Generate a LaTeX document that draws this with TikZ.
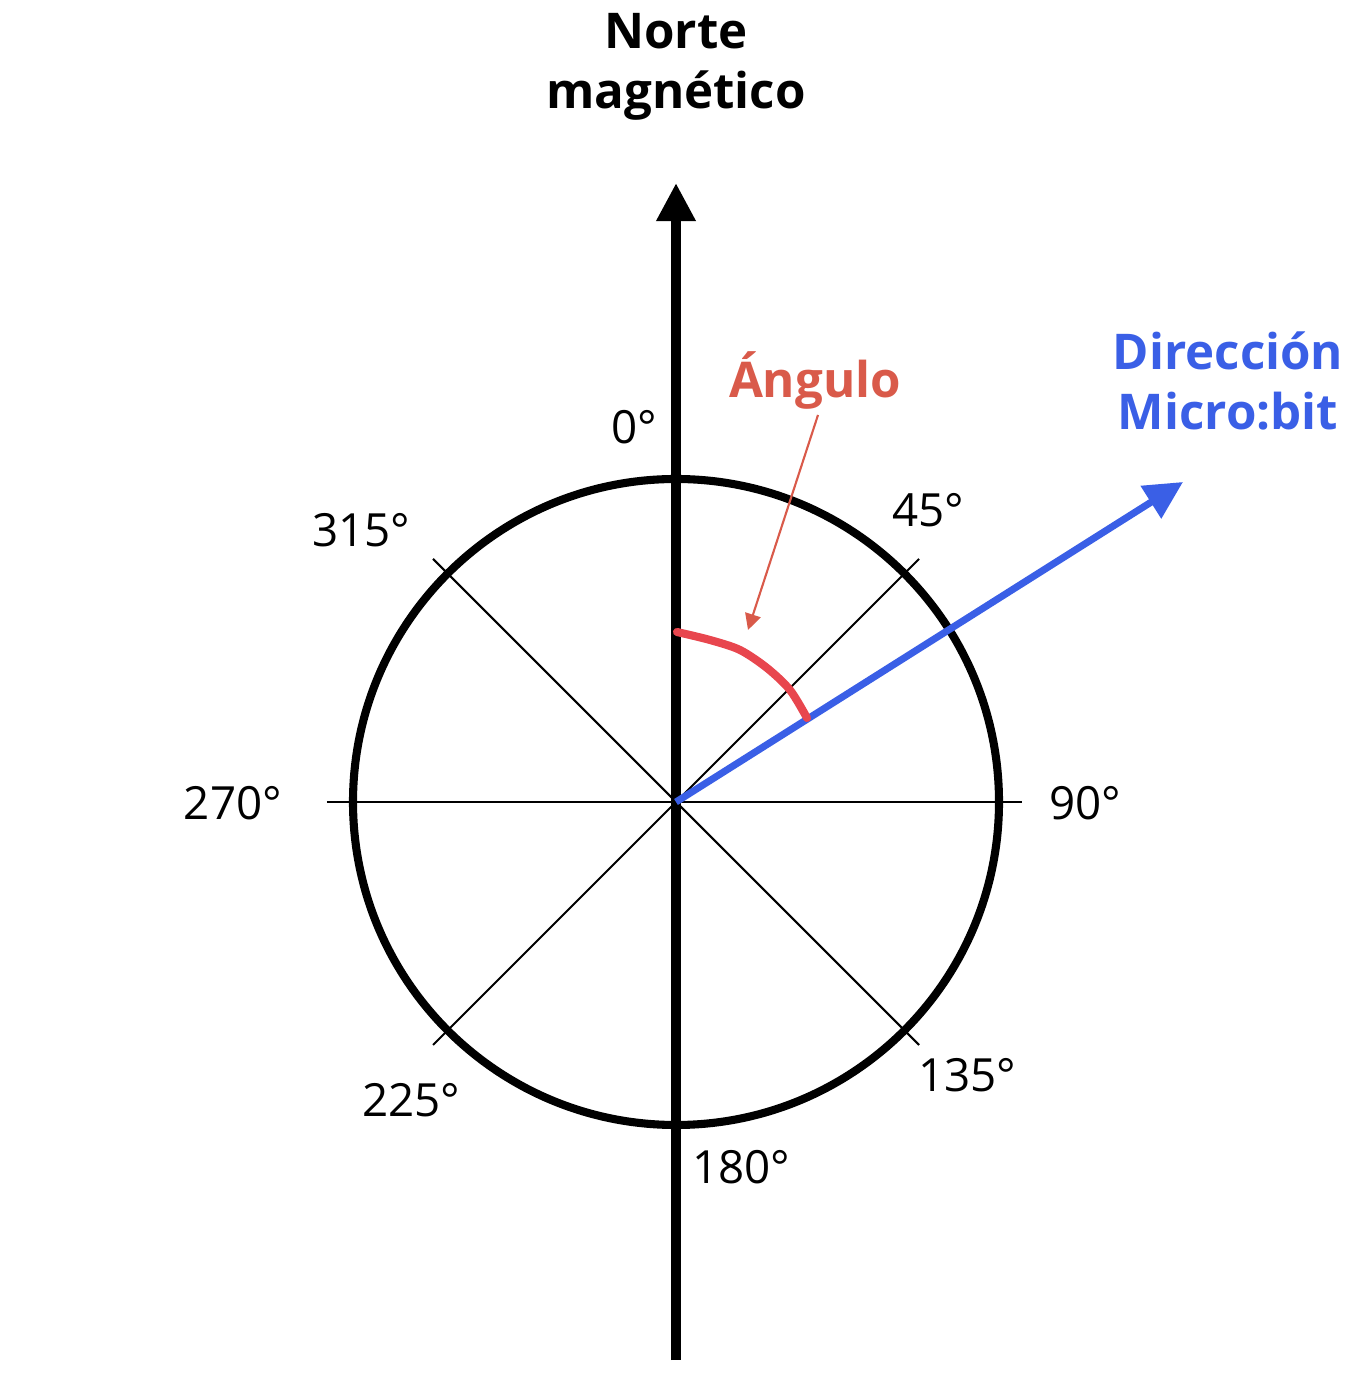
\documentclass[tikz,border=0pt]{standalone}
\usepackage{fontspec}
\setmainfont{Open Sans}
\usetikzlibrary{arrows.meta}
\definecolor{dirblue}{HTML}{3A5FE6}
\definecolor{arcred}{HTML}{E8464E}
\definecolor{labred}{HTML}{D95A4A}
\tikzset{
  thinline/.style={line width=0.6pt},
  deglabel/.style={font=\fontsize{13}{15}\selectfont},
  title/.style={font=\fontsize{14}{17}\selectfont\bfseries, align=center}
}
\begin{document}
\begin{tikzpicture}[x=0.01cm, y=0.01cm]
    \useasboundingbox (-676,-587) rectangle (686,802);
    \coordinate (O) at (0,0);
    
    % Circle and divisions
    \draw[thinline] (-349,0) -- (346,0);
    \draw[thinline] (-243,243) -- (243,-243);
    \draw[thinline] (243,243) -- (-243,-243);
    \draw[line width=2.3pt] (O) circle (323);
    
    % Magnetic north axis
    \coordinate (S) at (0,-558);
    \coordinate (N) at (0,619);
    \draw[line width=2.9pt, -{Triangle[length=0.38cm, width=0.37cm]}] (S) -- (N);
    
    % Micro:bit direction
    \coordinate (D) at (507,320);
    \draw[dirblue, line width=2pt, -{Triangle[length=0.38cm, width=0.37cm]}] (O) -- (D);
    
    % Angle (hand drawn)
    \draw[arcred, line width=2.3pt, line cap=round] 
        plot[smooth] coordinates {(1,170) (34,162) (64,152) (91,134) (114,112) (131,84)};
    
    % Labels
    \node[title] (north) at (0,735) {Norte\\magnético};
    \node[title, text=labred] (angle) at (139,421) {Ángulo};
    \node[title, text=dirblue] (dir) at (552,421) {Dirección\\Micro:bit};
    \coordinate (angletail) at (142,387);
    \coordinate (angletip) at (72,172);
    \draw[labred, line width=0.6pt, -{Triangle[length=0.16cm, width=0.16cm]}] 
        (angletail) -- (angletip);
    
    \node[deglabel] (d0) at (-42,375) {0°};
    \node[deglabel] (d45) at (252,292) {45°};
    \node[deglabel] (d90) at (409,-1) {90°};
    \node[deglabel] (d135) at (291,-273) {135°};
    \node[deglabel] (d180) at (65,-365) {180°};
    \node[deglabel] (d225) at (-265,-298) {225°};
    \node[deglabel] (d270) at (-443,-1) {270°};
    \node[deglabel] (d315) at (-315,272) {315°};
\end{tikzpicture}
\end{document}
